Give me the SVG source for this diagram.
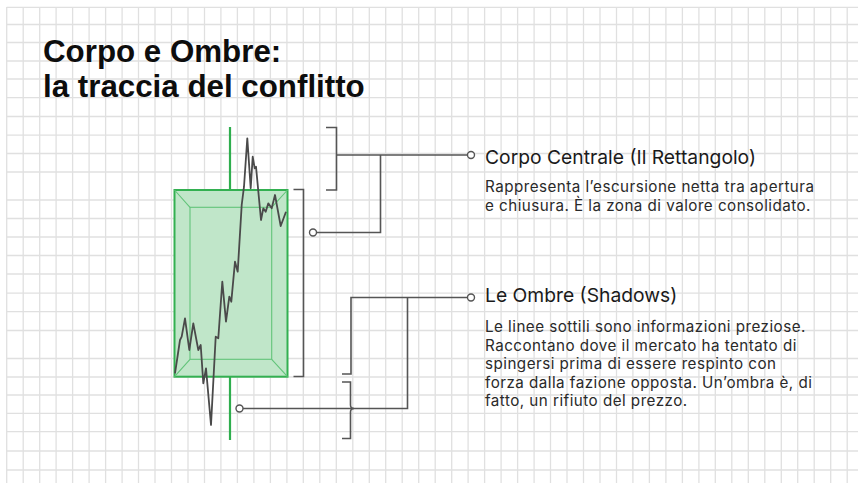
<svg xmlns="http://www.w3.org/2000/svg" width="858" height="483" viewBox="0 0 858 483">
<defs>
<style>
.grid line{stroke:#e0e0e0;stroke-width:1.3}
.title{font-family:"Liberation Sans",Arial,sans-serif;font-weight:bold;font-size:31.3px;fill:#0d0d0d}
.head{font-family:Inter,"Liberation Sans",sans-serif;font-size:19.3px;fill:#1a1a1a}
.para{font-family:Inter,"Liberation Sans",sans-serif;font-size:15.2px;letter-spacing:0.47px;fill:#2a2a2a}
.conn{fill:none;stroke:#555;stroke-width:1.6}
.dot{fill:#fff;stroke:#555;stroke-width:1.4}
.wick{stroke:#2fae4e;stroke-width:2.2}
.price{fill:none;stroke:#4a4a4a;stroke-width:1.8;stroke-linejoin:round}
</style>
</defs>
<rect width="858" height="483" fill="#fff"/>
<g class="grid" id="grid">
<line x1="6.7" y1="7" x2="6.7" y2="483"/><line x1="23.2" y1="7" x2="23.2" y2="483"/><line x1="39.7" y1="7" x2="39.7" y2="483"/><line x1="56.1" y1="7" x2="56.1" y2="483"/><line x1="72.6" y1="7" x2="72.6" y2="483"/><line x1="89.1" y1="7" x2="89.1" y2="483"/><line x1="105.6" y1="7" x2="105.6" y2="483"/><line x1="122.1" y1="7" x2="122.1" y2="483"/><line x1="138.5" y1="7" x2="138.5" y2="483"/><line x1="155" y1="7" x2="155" y2="483"/><line x1="171.5" y1="7" x2="171.5" y2="483"/><line x1="188" y1="7" x2="188" y2="483"/><line x1="204.5" y1="7" x2="204.5" y2="483"/><line x1="220.9" y1="7" x2="220.9" y2="483"/><line x1="237.4" y1="7" x2="237.4" y2="483"/><line x1="253.9" y1="7" x2="253.9" y2="483"/><line x1="270.4" y1="7" x2="270.4" y2="483"/><line x1="286.9" y1="7" x2="286.9" y2="483"/><line x1="303.3" y1="7" x2="303.3" y2="483"/><line x1="319.8" y1="7" x2="319.8" y2="483"/><line x1="336.3" y1="7" x2="336.3" y2="483"/><line x1="352.8" y1="7" x2="352.8" y2="483"/><line x1="369.3" y1="7" x2="369.3" y2="483"/><line x1="385.7" y1="7" x2="385.7" y2="483"/><line x1="402.2" y1="7" x2="402.2" y2="483"/><line x1="418.7" y1="7" x2="418.7" y2="483"/><line x1="435.2" y1="7" x2="435.2" y2="483"/><line x1="451.7" y1="7" x2="451.7" y2="483"/><line x1="468.1" y1="7" x2="468.1" y2="483"/><line x1="484.6" y1="7" x2="484.6" y2="483"/><line x1="501.1" y1="7" x2="501.1" y2="483"/><line x1="517.6" y1="7" x2="517.6" y2="483"/><line x1="534.1" y1="7" x2="534.1" y2="483"/><line x1="550.5" y1="7" x2="550.5" y2="483"/><line x1="567" y1="7" x2="567" y2="483"/><line x1="583.5" y1="7" x2="583.5" y2="483"/><line x1="600" y1="7" x2="600" y2="483"/><line x1="616.5" y1="7" x2="616.5" y2="483"/><line x1="632.9" y1="7" x2="632.9" y2="483"/><line x1="649.4" y1="7" x2="649.4" y2="483"/><line x1="665.9" y1="7" x2="665.9" y2="483"/><line x1="682.4" y1="7" x2="682.4" y2="483"/><line x1="698.9" y1="7" x2="698.9" y2="483"/><line x1="715.3" y1="7" x2="715.3" y2="483"/><line x1="731.8" y1="7" x2="731.8" y2="483"/><line x1="748.3" y1="7" x2="748.3" y2="483"/><line x1="764.8" y1="7" x2="764.8" y2="483"/><line x1="781.3" y1="7" x2="781.3" y2="483"/><line x1="797.7" y1="7" x2="797.7" y2="483"/><line x1="814.2" y1="7" x2="814.2" y2="483"/><line x1="830.7" y1="7" x2="830.7" y2="483"/><line x1="847.2" y1="7" x2="847.2" y2="483"/>
<line x1="6.7" y1="7.3" x2="858" y2="7.3"/><line x1="6.7" y1="24.5" x2="858" y2="24.5"/><line x1="6.7" y1="42.5" x2="858" y2="42.5"/><line x1="6.7" y1="61" x2="858" y2="61"/><line x1="6.7" y1="79" x2="858" y2="79"/><line x1="6.7" y1="97.7" x2="858" y2="97.7"/><line x1="6.7" y1="116.5" x2="858" y2="116.5"/><line x1="6.7" y1="135.2" x2="858" y2="135.2"/><line x1="6.7" y1="153.5" x2="858" y2="153.5"/><line x1="6.7" y1="172" x2="858" y2="172"/><line x1="6.7" y1="200" x2="858" y2="200"/><line x1="6.7" y1="218.5" x2="858" y2="218.5"/><line x1="6.7" y1="237" x2="858" y2="237"/><line x1="6.7" y1="255.5" x2="858" y2="255.5"/><line x1="6.7" y1="274" x2="858" y2="274"/><line x1="6.7" y1="293.2" x2="858" y2="293.2"/><line x1="6.7" y1="311.7" x2="858" y2="311.7"/><line x1="6.7" y1="330.5" x2="858" y2="330.5"/><line x1="6.7" y1="358.5" x2="858" y2="358.5"/><line x1="6.7" y1="377" x2="858" y2="377"/><line x1="6.7" y1="395" x2="858" y2="395"/><line x1="6.7" y1="413.3" x2="858" y2="413.3"/><line x1="6.7" y1="431.7" x2="858" y2="431.7"/><line x1="6.7" y1="451" x2="858" y2="451"/><line x1="6.7" y1="470" x2="858" y2="470"/>
</g>
<g id="title">
<text class="title" x="43" y="61.5">Corpo e Ombre:</text>
<text class="title" x="43" y="96.5">la traccia del conflitto</text>
</g>
<g id="candle">
<line class="wick" x1="230" y1="127" x2="230" y2="190"/>
<line class="wick" x1="230" y1="377" x2="230" y2="440"/>
<rect x="174.5" y="190" width="113" height="186.7" fill="#c0e6c9" stroke="#33b051" stroke-width="2"/>
<rect x="190" y="207.3" width="81.7" height="152" fill="none" stroke="#62c47a" stroke-width="1.1"/>
<path d="M174.5,190 L190,207.3 M287.5,190 L271.7,207.3 M174.5,376.7 L190,359.3 M287.5,376.7 L271.7,359.3" stroke="#62c47a" stroke-width="1.1" fill="none"/>
<polyline class="price" points="175,373.3 180,340 181.7,336.7 185,318.3 189.3,350 193.3,323.3 198.3,350 200.7,345 203.3,383.3 206,368.3 211,425 215.7,336.7 218.3,338.3 222.3,281.7 226,321.7 229.3,296.7 231.3,301.7 235,261.7 237.7,271.7 241.7,205 244,186.7 247.3,138.3 250.7,188.3 252.7,156.7 254.7,168.3 256,166.7 261,220 263.3,208.3 265.7,211.7 268.3,203.3 271.7,208.3 275,195 280.7,226 286,211.7"/>
</g>
<g id="connectors">
<path class="conn" d="M326,127.5 H336.5 V190 H326"/>
<path class="conn" d="M336.5,155 H467.5"/>
<path class="conn" d="M380.5,155 V232.5 H316.5"/>
<path class="conn" d="M293.5,189.5 H303.5 V376.5 H293.5"/>
<path class="conn" d="M467.5,297.5 H351 V374 H342"/>
<path class="conn" d="M407.5,297.5 V408.5 H243"/>
<path class="conn" d="M342,382 H350.5 V405 Q350.5,408.5 354,408.5 Q350.5,408.5 350.5,412 V438.5 H342"/>
<circle class="dot" cx="471" cy="155" r="3.5"/>
<circle class="dot" cx="313" cy="232.5" r="3.5"/>
<circle class="dot" cx="471" cy="297.5" r="3.5"/>
<circle class="dot" cx="239.5" cy="408.5" r="3.5"/>
</g>
<g id="corpo">
<text class="head" x="485" y="163.5">Corpo Centrale (Il Rettangolo)</text>
<text class="para" x="485" y="192">Rappresenta l’escursione netta tra apertura</text>
<text class="para" x="485" y="210.5">e chiusura. È la zona di valore consolidato.</text>
</g>
<g id="ombre">
<text class="head" x="485" y="302">Le Ombre (Shadows)</text>
<text class="para" x="485" y="332">Le linee sottili sono informazioni preziose.</text>
<text class="para" x="485" y="350.5">Raccontano dove il mercato ha tentato di</text>
<text class="para" x="485" y="369">spingersi prima di essere respinto con</text>
<text class="para" x="485" y="387.5">forza dalla fazione opposta. Un’ombra è, di</text>
<text class="para" x="485" y="406">fatto, un rifiuto del prezzo.</text>
</g>
</svg>
